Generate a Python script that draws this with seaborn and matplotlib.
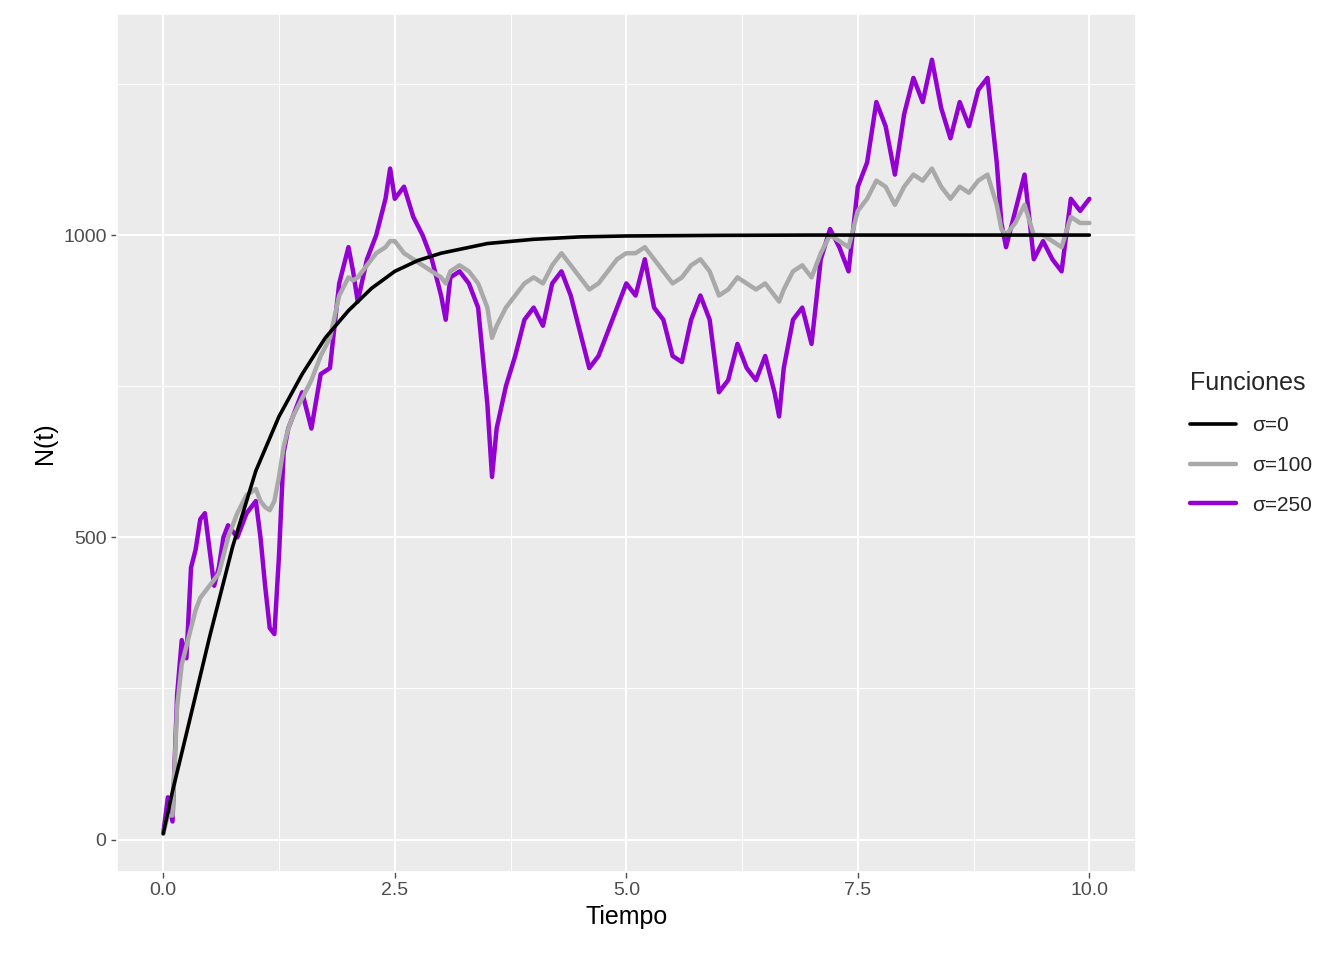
import numpy as np
import pandas as pd
import seaborn as sns
import matplotlib.pyplot as plt
from matplotlib.ticker import MultipleLocator

# sigma = 0 (deterministic curve)
t_det = [0, 0.1, 0.25, 0.5, 0.75, 1.0, 1.25, 1.5, 1.75, 2.0, 2.25, 2.5, 2.75, 3.0,
         3.5, 4.0, 4.5, 5.0, 6.0, 7.0, 8.0, 9.0, 10.0]
n_det = [10, 80, 175, 335, 485, 610, 700, 770, 830, 875, 912, 940, 958, 970,
         986, 993, 997, 998.5, 999.5, 1000, 1000, 1000, 1000]

t_sto = [0, 0.05, 0.1, 0.15, 0.2, 0.25, 0.3, 0.35, 0.4, 0.45, 0.5, 0.55, 0.6, 0.65, 0.7,
         0.8, 0.9, 1.0, 1.05, 1.1, 1.15, 1.2, 1.25, 1.3, 1.35, 1.4, 1.5, 1.6, 1.7, 1.8,
         1.9, 2.0, 2.05, 2.1, 2.2, 2.3, 2.4, 2.45, 2.5, 2.6, 2.7, 2.8, 2.9, 3.0, 3.05,
         3.1, 3.2, 3.3, 3.4, 3.5, 3.55, 3.6, 3.7, 3.8, 3.9, 4.0, 4.1, 4.2, 4.3, 4.4,
         4.5, 4.6, 4.7, 4.8, 4.9, 5.0, 5.1, 5.2, 5.3, 5.4, 5.5, 5.6, 5.7, 5.8, 5.9,
         6.0, 6.1, 6.2, 6.3, 6.4, 6.5, 6.6, 6.65, 6.7, 6.8, 6.9, 7.0, 7.1, 7.2, 7.3,
         7.4, 7.5, 7.6, 7.7, 7.8, 7.9, 8.0, 8.1, 8.2, 8.3, 8.4, 8.5, 8.6, 8.7, 8.8,
         8.9, 9.0, 9.05, 9.1, 9.2, 9.3, 9.4, 9.5, 9.6, 9.7, 9.8, 9.9, 10.0]

# sigma = 250
n_250 = [10, 70, 30, 240, 330, 300, 450, 480, 530, 540, 480, 420, 450, 500, 520,
         500, 540, 560, 500, 420, 350, 340, 470, 640, 680, 700, 740, 680, 770, 780,
         920, 980, 940, 890, 960, 1000, 1060, 1110, 1060, 1080, 1030, 1000, 960, 900, 860,
         930, 940, 920, 880, 720, 600, 680, 750, 800, 860, 880, 850, 920, 940, 900,
         840, 780, 800, 840, 880, 920, 900, 960, 880, 860, 800, 790, 860, 900, 860,
         740, 760, 820, 780, 760, 800, 740, 700, 780, 860, 880, 820, 960, 1010, 980,
         940, 1080, 1120, 1220, 1180, 1100, 1200, 1260, 1220, 1290, 1210, 1160, 1220, 1180, 1240,
         1260, 1120, 1020, 980, 1040, 1100, 960, 990, 960, 940, 1060, 1040, 1060]

# sigma = 100
n_100 = [10, 40, 40, 220, 290, 320, 350, 380, 400, 410, 420, 430, 440, 470, 500,
         540, 570, 580, 560, 550, 545, 560, 600, 650, 680, 700, 730, 760, 800, 830,
         900, 930, 925, 930, 950, 970, 980, 990, 990, 970, 960, 950, 940, 930, 920,
         940, 950, 940, 920, 880, 830, 850, 880, 900, 920, 930, 920, 950, 970, 950,
         930, 910, 920, 940, 960, 970, 970, 980, 960, 940, 920, 930, 950, 960, 940,
         900, 910, 930, 920, 910, 920, 900, 890, 910, 940, 950, 930, 970, 1000, 990,
         980, 1040, 1060, 1090, 1080, 1050, 1080, 1100, 1090, 1110, 1080, 1060, 1080, 1070, 1090,
         1100, 1050, 1010, 1000, 1020, 1050, 1000, 1000, 990, 980, 1030, 1020, 1020]

labels = ['σ=0', 'σ=100', 'σ=250']
colors = ['#000000', '#A9A9A9', '#9400D3']

df = pd.concat([
    pd.DataFrame({'Tiempo': t_det, 'N': n_det, 'Funciones': labels[0]}),
    pd.DataFrame({'Tiempo': t_sto, 'N': n_100, 'Funciones': labels[1]}),
    pd.DataFrame({'Tiempo': t_sto, 'N': n_250, 'Funciones': labels[2]}),
])

sns.set_theme(style='darkgrid', rc={'axes.facecolor': '#EBEBEB', 'grid.color': 'white'})
plt.rcParams['font.family'] = ['Liberation Sans', 'DejaVu Sans']

fig, ax = plt.subplots(figsize=(13.44, 9.6), dpi=100)
fig.subplots_adjust(left=0.087, right=0.845, top=0.985, bottom=0.092)

# draw in reverse so black sits on top
for lab, col, lw in [(labels[2], colors[2], 3.2), (labels[1], colors[1], 3.2), (labels[0], colors[0], 2.6)]:
    sub = df[df['Funciones'] == lab]
    sns.lineplot(data=sub, x='Tiempo', y='N', color=col, linewidth=lw, ax=ax, label=lab,
                 estimator=None, sort=False)

ax.set_xlim(-0.5, 10.5)
ax.set_ylim(-53, 1365)
ax.set_xticks([0, 2.5, 5, 7.5, 10])
ax.set_xticklabels(['0.0', '2.5', '5.0', '7.5', '10.0'])
ax.set_yticks([0, 500, 1000])
ax.xaxis.set_minor_locator(MultipleLocator(1.25))
ax.yaxis.set_minor_locator(MultipleLocator(250))
ax.grid(which='major', color='white', linewidth=1.4)
ax.grid(which='minor', color='white', linewidth=0.7)
ax.tick_params(axis='both', labelsize=14, colors='#4D4D4D', length=4, width=1, left=True, bottom=True)
ax.set_xlabel('Tiempo', fontsize=18, color='black')
ax.set_ylabel('N(t)', fontsize=18, color='black')

h, l = ax.get_legend_handles_labels()
order = [l.index(x) for x in labels]
leg = ax.legend([h[i] for i in order], labels, title='Funciones', loc='center left',
                bbox_to_anchor=(1.035, 0.5), frameon=False, fontsize=15, title_fontsize=18,
                handlelength=2.2, labelspacing=1.0, alignment='left')

fig.savefig('out.png', dpi=100, facecolor='white')
